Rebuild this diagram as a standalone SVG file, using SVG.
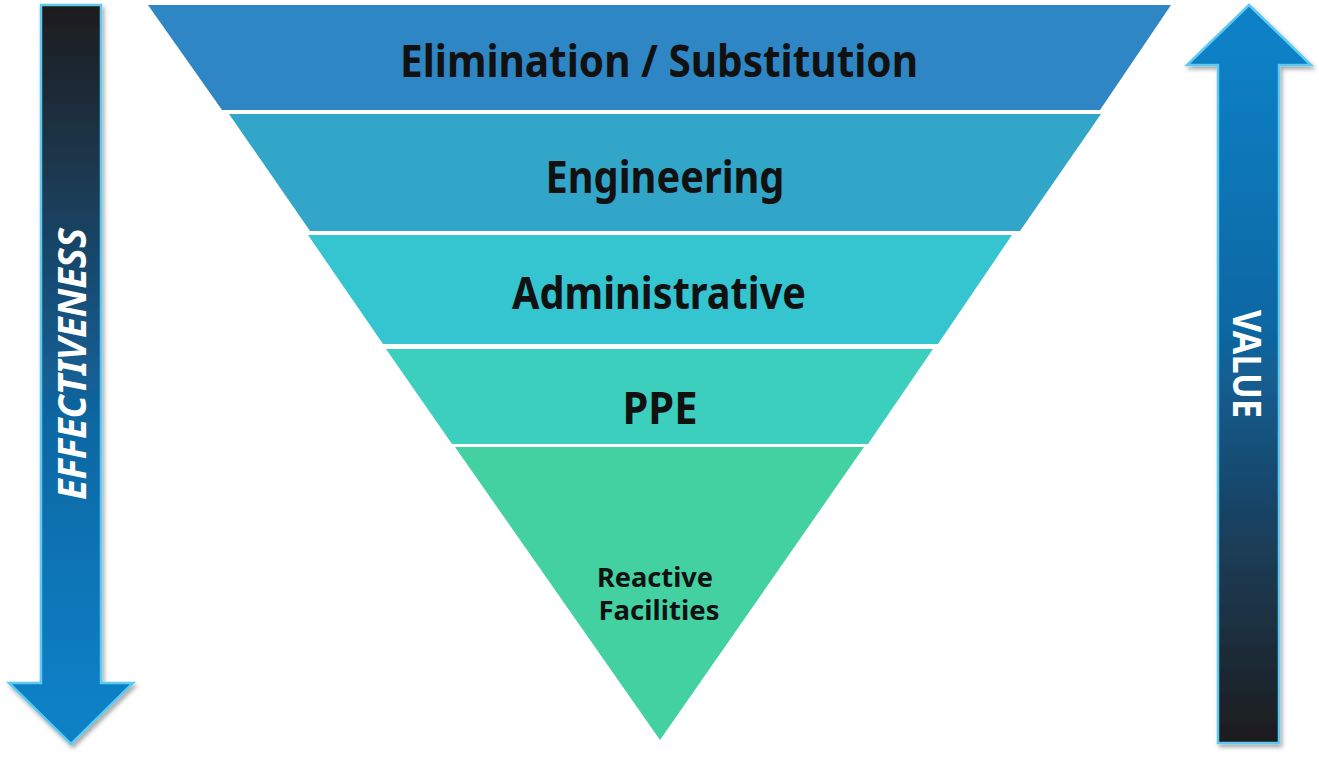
<svg xmlns="http://www.w3.org/2000/svg" width="1319" height="757" viewBox="0 0 1319 757">
<defs>
<linearGradient id="gDown" gradientUnits="userSpaceOnUse" x1="0" y1="5" x2="0" y2="700">
<stop offset="0" stop-color="#1c1c1d"/>
<stop offset="0.3" stop-color="#1a3f5c"/>
<stop offset="0.6" stop-color="#1067a2"/>
<stop offset="1" stop-color="#0780c6"/>
</linearGradient>
<linearGradient id="gUp" gradientUnits="userSpaceOnUse" x1="0" y1="743" x2="0" y2="50">
<stop offset="0" stop-color="#1c1c1d"/>
<stop offset="0.3" stop-color="#1a3f5c"/>
<stop offset="0.6" stop-color="#1067a2"/>
<stop offset="1" stop-color="#0780c6"/>
</linearGradient>
<filter id="sh" x="-30%" y="-10%" width="160%" height="120%">
<feDropShadow dx="2" dy="3" stdDeviation="2" flood-color="#000" flood-opacity="0.35"/>
</filter>
</defs>
<style>
.arrow{stroke:#5ec8f0;stroke-width:2.5;stroke-linejoin:miter;filter:url(#sh)}
.lbl{font-family:"Noto Sans","DejaVu Sans",sans-serif;font-weight:700;fill:#111;text-anchor:middle}
.big{font-size:44px}
.small{font-size:26px}
.side{font-family:"Noto Sans","DejaVu Sans",sans-serif;font-weight:700;fill:#fff;text-anchor:middle;font-size:40px}
</style>
<g id="arrow-effectiveness">
<polygon class="arrow" fill="url(#gDown)" points="41,5 101,5 101,683 133,683 71,744 9,683 41,683"/>
<text class="side" font-style="italic" transform="translate(86,364) rotate(-90)" textLength="272" lengthAdjust="spacingAndGlyphs">EFFECTIVENESS</text>
</g>
<g id="arrow-value">
<polygon class="arrow" fill="url(#gUp)" points="1249,5 1311,65 1279,65 1279,743 1218,743 1218,65 1187,65"/>
<text class="side" transform="translate(1233,364) rotate(90)" textLength="108" lengthAdjust="spacingAndGlyphs">VALUE</text>
</g>
<g id="band-elimination">
<polygon fill="#2f86c4" points="148,5 1171,5 1100,110 222,110"/>
<text class="lbl big" x="659" y="77" textLength="518" lengthAdjust="spacingAndGlyphs">Elimination / Substitution</text>
</g>
<g id="band-engineering">
<polygon fill="#31a6c9" points="229,114 1101,114 1020,231 310,231"/>
<text class="lbl big" x="665" y="193" textLength="239" lengthAdjust="spacingAndGlyphs">Engineering</text>
</g>
<g id="band-administrative">
<polygon fill="#34c5d0" points="308,235 1012,235 938,344 383,344"/>
<text class="lbl big" x="659" y="309" textLength="294" lengthAdjust="spacingAndGlyphs">Administrative</text>
</g>
<g id="band-ppe">
<polygon fill="#3ccfbe" points="386,349 933,349 868,444 452,444"/>
<text class="lbl big" x="660" y="424" textLength="75" lengthAdjust="spacingAndGlyphs">PPE</text>
</g>
<g id="band-reactive">
<polygon fill="#43d1a2" points="455,447 864,447 660,740"/>
<text class="lbl small" x="655" y="587" textLength="116" lengthAdjust="spacingAndGlyphs">Reactive</text>
<text class="lbl small" x="659" y="620" textLength="121" lengthAdjust="spacingAndGlyphs">Facilities</text>
</g>
<g id="connectors"/>
</svg>
